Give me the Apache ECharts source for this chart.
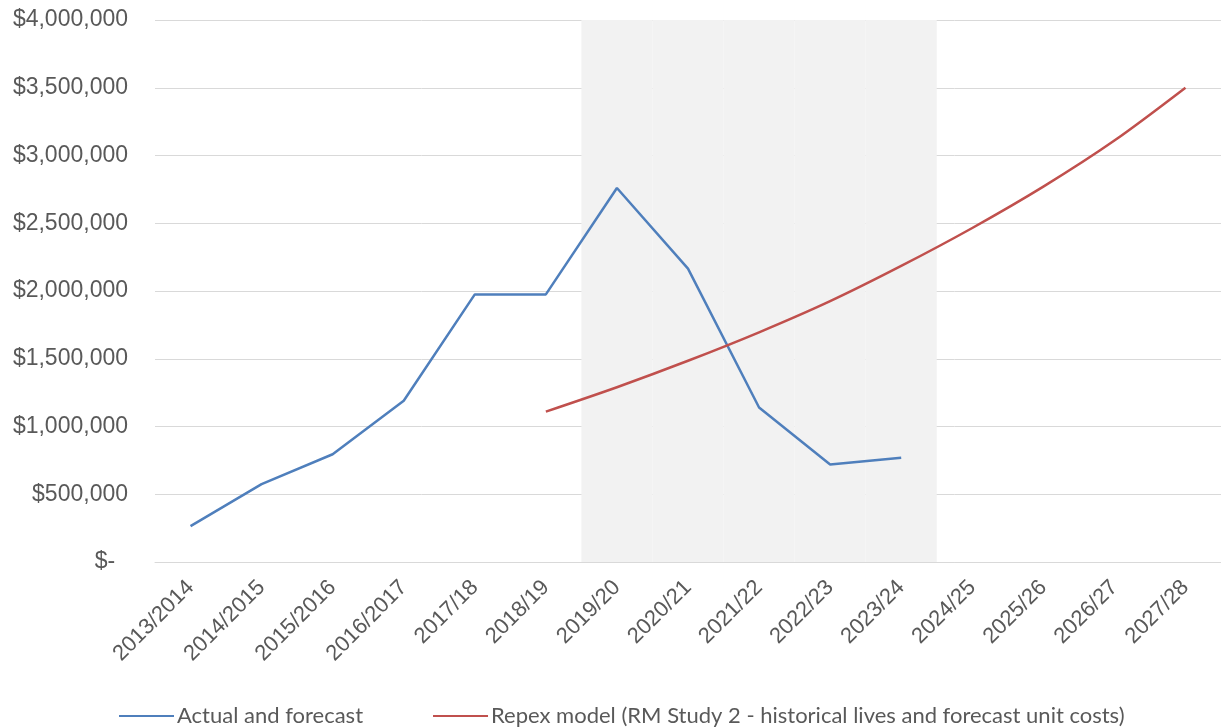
<!DOCTYPE html>
<html>
<head>
<meta charset="utf-8">
<script src="https://cdn.jsdelivr.net/npm/echarts@6/dist/echarts.min.js"></script>
<style>
  html, body { margin: 0; padding: 0; background: #ffffff; }
  #chart { width: 1221px; height: 728px; }
</style>
</head>
<body>
<div id="chart"></div>
<script>
// Financial years on the category axis
const years = ['2013/2014', '2014/2015', '2015/2016', '2016/2017', '2017/18', '2018/19',
  '2019/20', '2020/21', '2021/22', '2022/23', '2023/24', '2024/25', '2025/26', '2026/27', '2027/28'];

// Actual and forecast expenditure ($)
const actualForecast = [265000, 575000, 795000, 1190000, 1975000, 1975000,
  2760000, 2165000, 1140000, 720000, 770000, null, null, null, null];

// Repex model projection ($)
const repexModel = [null, null, null, null, null, 1110000,
  1290000, 1485000, 1695000, 1925000, 2185000, 2465000, 2770000, 3110000, 3500000];

// Regulatory period band (2019/20 to 2023/24), drawn as full-height columns
const periodBand = [null, null, null, null, null, null,
  4000000, 4000000, 4000000, 4000000, 4000000, null, null, null, null];

// Value axis ticks
const yMin = 0, yMax = 4000000, yStep = 500000;

const seriesNames = ['Actual and forecast',
  'Repex model (RM Study 2 - historical lives and forecast unit costs)'];

function money(v) {
  if (v === 0) return '$-  ';
  return '$' + v.toLocaleString('en-US');
}

const fontArial = '"Liberation Sans", Arial, sans-serif';

const chart = echarts.init(document.getElementById('chart'), null, { renderer: 'canvas' });
chart.setOption({
  animation: false,
  backgroundColor: '#ffffff',
  grid: { left: 155, right: -1, top: 20, bottom: 166 },
  legend: {
    data: seriesNames,
    left: 114,
    top: 700,
    itemWidth: 55,
    itemHeight: 14,
    itemGap: 70,
    icon: 'path://M0,6 L55,6 L55,8 L0,8 Z',
    textStyle: { fontFamily: 'Lato, "Open Sans", sans-serif', fontSize: 22, color: '#595959', padding: [0, 0, 0, -2] }
  },
  xAxis: {
    type: 'category',
    data: years,
    boundaryGap: true,
    z: 5,
    axisLine: { lineStyle: { color: '#d9d9d9', width: 1 } },
    axisTick: { show: false },
    axisLabel: { rotate: 45, margin: 22, interval: 0, fontFamily: fontArial, fontSize: 22, color: '#595959' },
    splitLine: { show: false }
  },
  yAxis: {
    type: 'value',
    min: yMin,
    max: yMax,
    interval: yStep,
    axisLine: { show: false },
    axisTick: { show: false },
    axisLabel: { margin: 27, formatter: money, fontFamily: fontArial, fontSize: 23, color: '#595959' },
    splitLine: { lineStyle: { color: '#d9d9d9', width: 1 } }
  },
  series: [
    {
      name: 'band',
      type: 'bar',
      data: periodBand,
      barWidth: '100%',
      itemStyle: { color: '#f2f2f2' },
      silent: true,
      z: 1
    },
    {
      name: seriesNames[0],
      type: 'line',
      data: actualForecast,
      showSymbol: false,
      symbol: 'none',
      lineStyle: { color: '#4f7fbc', width: 2.5 },
      itemStyle: { color: '#4f7fbc' },
      z: 3
    },
    {
      name: seriesNames[1],
      type: 'line',
      data: repexModel,
      smooth: 0.3,
      showSymbol: false,
      symbol: 'none',
      lineStyle: { color: '#c0504d', width: 2.5 },
      itemStyle: { color: '#c0504d' },
      z: 3
    }
  ]
});
</script>
</body>
</html>
